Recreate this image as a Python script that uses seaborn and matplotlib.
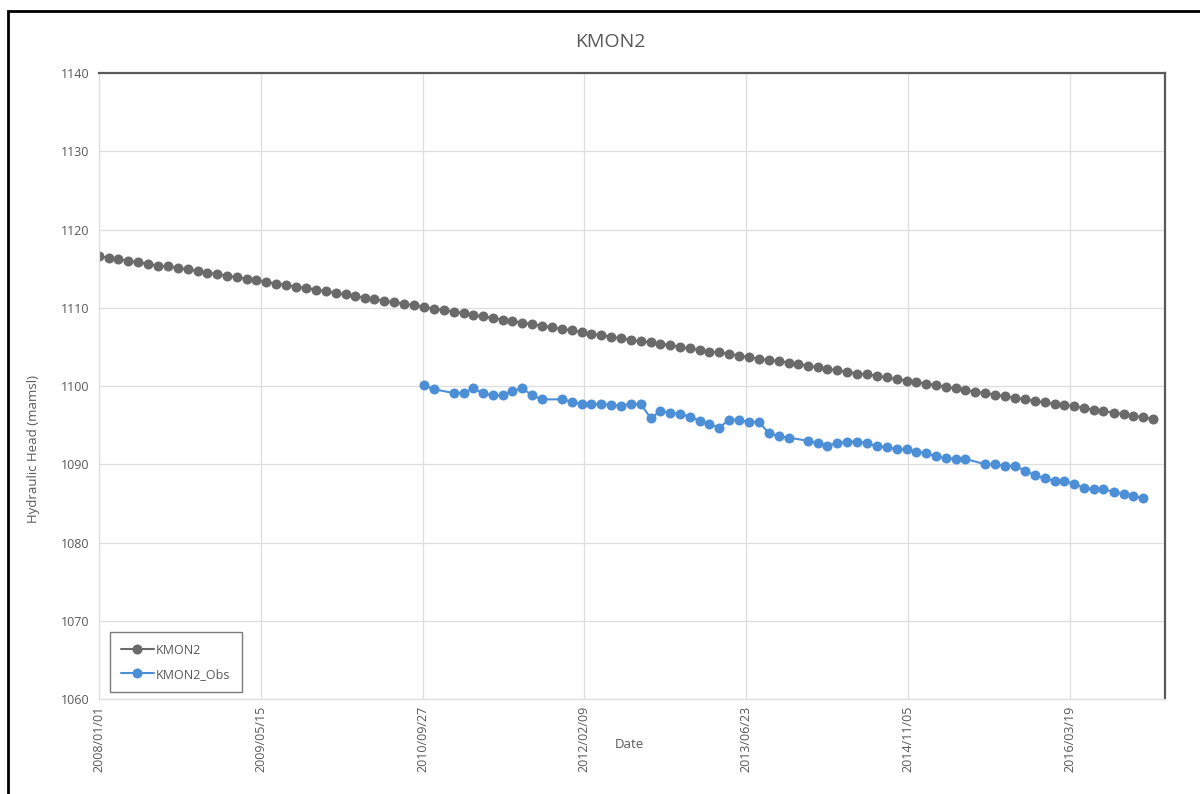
import matplotlib
matplotlib.use("Agg")
import matplotlib.pyplot as plt
import matplotlib.dates as mdates
from matplotlib.patches import Rectangle
import pandas as pd
import seaborn as sns

# Simulated hydraulic head at KMON2, one value per month starting January 2008
sim_start = "2008-01-01"
sim_head = [
    1116.6, 1116.4, 1116.2, 1116.0, 1115.8, 1115.6, 1115.4, 1115.3, 1115.1, 1114.9,
    1114.7, 1114.5, 1114.3, 1114.1, 1113.9, 1113.7, 1113.5, 1113.3, 1113.1, 1112.9,
    1112.7, 1112.5, 1112.3, 1112.1, 1111.9, 1111.7, 1111.5, 1111.3, 1111.1, 1110.9,
    1110.7, 1110.5, 1110.3, 1110.1, 1109.9, 1109.7, 1109.5, 1109.3, 1109.1, 1108.9,
    1108.7, 1108.5, 1108.3, 1108.1, 1107.9, 1107.7, 1107.5, 1107.3, 1107.1, 1106.9,
    1106.7, 1106.5, 1106.3, 1106.1, 1105.9, 1105.7, 1105.6, 1105.4, 1105.2, 1105.0,
    1104.8, 1104.6, 1104.4, 1104.3, 1104.1, 1103.9, 1103.7, 1103.5, 1103.3, 1103.2,
    1103.0, 1102.8, 1102.6, 1102.4, 1102.2, 1102.0, 1101.8, 1101.6, 1101.5, 1101.3,
    1101.1, 1100.9, 1100.7, 1100.5, 1100.3, 1100.1, 1099.9, 1099.7, 1099.5, 1099.3,
    1099.1, 1098.9, 1098.7, 1098.5, 1098.3, 1098.1, 1097.9, 1097.7, 1097.6, 1097.4,
    1097.2, 1097.0, 1096.8, 1096.6, 1096.4, 1096.2, 1096.0, 1095.8,
]

# Observed hydraulic head (monthly readings, some months missing)
obs_months = [
    "2010-10", "2010-11",
    "2011-01", "2011-02", "2011-03", "2011-04", "2011-05", "2011-06", "2011-07",
    "2011-08", "2011-09", "2011-10", "2011-12",
    "2012-01", "2012-02", "2012-03", "2012-04", "2012-05", "2012-06", "2012-07",
    "2012-08", "2012-09", "2012-10", "2012-11", "2012-12",
    "2013-01", "2013-02", "2013-03", "2013-04", "2013-05", "2013-06", "2013-07",
    "2013-08", "2013-09", "2013-10", "2013-11",
    "2014-01", "2014-02", "2014-03", "2014-04", "2014-05", "2014-06", "2014-07",
    "2014-08", "2014-09", "2014-10", "2014-11", "2014-12",
    "2015-01", "2015-02", "2015-03", "2015-04", "2015-05", "2015-07", "2015-08",
    "2015-09", "2015-10", "2015-11", "2015-12",
    "2016-01", "2016-02", "2016-03", "2016-04", "2016-05", "2016-06", "2016-07",
    "2016-08", "2016-09", "2016-10", "2016-11",
]
obs_head = [
    1100.1, 1099.6,
    1099.1, 1099.1, 1099.7, 1099.1, 1098.8, 1098.8, 1099.4,
    1099.7, 1098.8, 1098.3, 1098.3,
    1098.0, 1097.7, 1097.7, 1097.7, 1097.6, 1097.5, 1097.7,
    1097.7, 1095.9, 1096.8, 1096.6, 1096.4,
    1096.1, 1095.5, 1095.1, 1094.7, 1095.7, 1095.7, 1095.4,
    1095.4, 1094.0, 1093.6, 1093.4,
    1093.0, 1092.7, 1092.4, 1092.7, 1092.9, 1092.9, 1092.7,
    1092.3, 1092.2, 1091.9, 1091.9, 1091.6,
    1091.4, 1091.0, 1090.8, 1090.7, 1090.7, 1090.0, 1090.0,
    1089.8, 1089.8, 1089.2, 1088.6,
    1088.2, 1087.9, 1087.9, 1087.5, 1087.0, 1086.8, 1086.8,
    1086.5, 1086.2, 1085.9, 1085.7,
]

x_tick_dates = ["2008-01-01", "2009-05-15", "2010-09-27", "2012-02-09",
                "2013-06-23", "2014-11-05", "2016-03-19"]
x_limits = ["2008-01-01", "2017-01-07"]
y_ticks = [1060, 1070, 1080, 1090, 1100, 1110, 1120, 1130, 1140]

sim_color = "#6a6a6a"
obs_color = "#4d8fd6"
text_color = "#595959"
grid_color = "#dedede"

sns.set_theme(style="whitegrid")
plt.rcParams["font.family"] = ["Open Sans", "DejaVu Sans"]

sim_df = pd.DataFrame({
    "Date": pd.date_range(sim_start, periods=len(sim_head), freq="MS"),
    "Head": sim_head,
})
obs_df = pd.DataFrame({
    "Date": pd.to_datetime(obs_months, format="%Y-%m"),
    "Head": obs_head,
})

fig = plt.figure(figsize=(12, 7.94), dpi=100)
fig.patch.set_facecolor("white")
ax = fig.add_axes([0.0825, 0.1196, 0.8883, 0.7884])
ax.set_facecolor("white")

sns.lineplot(data=sim_df, x="Date", y="Head", ax=ax, color=sim_color,
             marker="o", markersize=7.2, markeredgewidth=0, linewidth=1.5,
             label="KMON2")
sns.lineplot(data=obs_df, x="Date", y="Head", ax=ax, color=obs_color,
             marker="o", markersize=7.2, markeredgewidth=0, linewidth=1.5,
             label="KMON2_Obs")

ax.set_xlim(pd.to_datetime(x_limits[0]), pd.to_datetime(x_limits[1]))
ax.set_ylim(y_ticks[0], y_ticks[-1])
ax.set_yticks(y_ticks)
ax.set_xticks(pd.to_datetime(x_tick_dates))
ax.xaxis.set_major_formatter(mdates.DateFormatter("%Y/%m/%d"))

ax.grid(True, color=grid_color, linewidth=0.9)
ax.tick_params(axis="both", length=0, labelsize=9, colors=text_color, pad=7)
ax.tick_params(axis="x", labelrotation=90, pad=5)

for side in ("left", "bottom"):
    ax.spines[side].set_color(grid_color)
    ax.spines[side].set_linewidth(0.9)
for side in ("top", "right"):
    ax.spines[side].set_color("#5a5a5a")
    ax.spines[side].set_linewidth(1.6)

ax.set_xlabel("Date", fontsize=9.5, color=text_color)
ax.set_ylabel("Hydraulic Head (mamsl)", fontsize=9.5, color=text_color)
ax.xaxis.set_label_coords(0.498, -0.063)
ax.yaxis.set_label_coords(-0.055, 0.40)

leg = ax.legend(loc="lower left", bbox_to_anchor=(0.0103, 0.0112),
                borderaxespad=0, frameon=True, fancybox=False,
                fontsize=9, labelcolor=text_color, handlelength=2.6,
                handletextpad=0.2, borderpad=0.9, labelspacing=0.9)
leg.get_frame().set_edgecolor("#5a5a5a")
leg.get_frame().set_linewidth(1.0)

fig.text(0.509, 0.947, "KMON2", ha="center", va="center",
         fontsize=14, color=text_color)

# outer chart border (left and top edges visible)
fig.patches.append(Rectangle((8 / 1200, -0.05), 1.2, 1 - 11 / 794 + 0.05,
                             transform=fig.transFigure, fill=False,
                             edgecolor="black", linewidth=2.0))

fig.savefig("out.png", dpi=100, facecolor="white")
